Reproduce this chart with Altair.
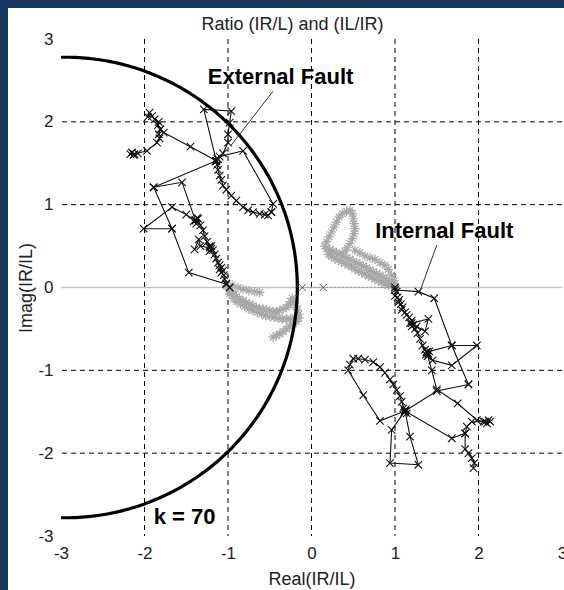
import altair as alt
import numpy as np
import pandas as pd

# ---------------- data ----------------
tick_values = [-3, -2, -1, 0, 1, 2, 3]
grid_x = [-2, -1, 0, 1, 2]
grid_y = [-2, -1, 1, 2]
zero_line = [0]
chart_title = "Ratio (IR/L) and (IL/IR)"

# k = 70 restraint circle (centre on the real axis, radius)
circle_center = (-2.95, 0.0)
circle_radius = 2.78

# external fault trajectory (black, x markers)
ext_segments = [
    [(-1.94, 2.11), (-1.96, 2.06), (-1.91, 2.07), (-1.88, 2.03), (-1.83, 2.00), (-1.84, 1.96),
     (-1.81, 1.91), (-1.83, 1.85), (-1.82, 1.80), (-1.85, 1.75), (-1.97, 1.65), (-2.08, 1.62),
     (-2.13, 1.60), (-2.17, 1.61), (-2.15, 1.63), (-2.12, 1.61)],
    [(-1.81, 1.91), (-1.77, 1.87), (-1.45, 1.70), (-1.14, 1.53)],
    [(-1.14, 1.53), (-1.29, 2.15), (-0.96, 2.13), (-0.98, 1.99), (-1.00, 1.85), (-1.00, 1.75),
     (-1.06, 1.62), (-1.12, 1.55), (-1.15, 1.52), (-1.13, 1.56), (-1.10, 1.58), (-0.82, 1.65),
     (-0.46, 1.01), (-0.48, 0.91)],
    [(-0.48, 0.91), (-0.52, 0.87), (-0.56, 0.88), (-0.62, 0.89), (-0.70, 0.91), (-0.76, 0.93),
     (-0.82, 0.97), (-0.90, 1.05), (-0.96, 1.11), (-1.02, 1.18), (-1.06, 1.23), (-1.08, 1.30),
     (-1.10, 1.35), (-1.12, 1.42), (-1.13, 1.48), (-1.14, 1.53)],
    [(-1.14, 1.53), (-1.89, 1.21), (-1.67, 0.71), (-1.47, 0.18), (-1.02, 0.04), (-0.98, 0.00)],
    [(-1.89, 1.21), (-1.55, 1.27), (-1.39, 0.81)],
    [(-1.67, 0.71), (-2.01, 0.71), (-1.67, 0.97), (-1.50, 0.88), (-1.39, 0.81)],
    [(-1.39, 0.81), (-1.37, 0.84), (-1.41, 0.80), (-1.38, 0.77), (-1.36, 0.83), (-1.33, 0.75),
     (-1.30, 0.69), (-1.28, 0.62), (-1.25, 0.55), (-1.22, 0.50), (-1.20, 0.47), (-1.22, 0.44),
     (-1.18, 0.45), (-1.20, 0.50), (-1.16, 0.40), (-1.14, 0.35), (-1.12, 0.30), (-1.10, 0.27),
     (-1.08, 0.24), (-1.10, 0.22), (-1.06, 0.20), (-1.08, 0.18), (-1.05, 0.15), (-1.04, 0.10),
     (-1.02, 0.05)],
    [(-1.22, 0.48), (-1.33, 0.50), (-1.35, 0.58), (-1.40, 0.46)],
]

# internal fault trajectory (black, x markers)
int_segments = [
    [(1.00, 0.00), (1.02, -0.05), (1.00, -0.10), (1.03, -0.12), (1.05, -0.15), (1.04, -0.18),
     (1.07, -0.20), (1.09, -0.24), (1.08, -0.27), (1.12, -0.30), (1.14, -0.33), (1.17, -0.36),
     (1.20, -0.40), (1.18, -0.43), (1.22, -0.45), (1.20, -0.47), (1.24, -0.50), (1.27, -0.55),
     (1.30, -0.62), (1.33, -0.70), (1.36, -0.75), (1.38, -0.78), (1.40, -0.80), (1.37, -0.81),
     (1.41, -0.77), (1.39, -0.83)],
    [(1.20, -0.43), (1.40, -0.38), (1.36, -0.53), (1.26, -0.47)],
    [(1.00, -0.03), (1.28, -0.05), (1.47, -0.13), (1.68, -0.70), (1.88, -1.17)],
    [(1.38, -0.78), (1.68, -0.70), (1.98, -0.70), (1.68, -0.94), (1.45, -0.88), (1.38, -0.78)],
    [(1.38, -0.78), (1.44, -1.00), (1.50, -1.23), (1.75, -1.40), (1.98, -1.60), (2.06, -1.62),
     (2.12, -1.60), (2.10, -1.64), (2.14, -1.62)],
    [(1.12, -1.49), (1.50, -1.25), (1.88, -1.17)],
    [(1.12, -1.49), (1.68, -1.82), (1.84, -1.76), (1.86, -1.68), (1.92, -1.62), (2.08, -1.62)],
    [(1.84, -1.76), (1.84, -1.95), (1.88, -2.00), (1.92, -2.06), (1.95, -2.12), (1.94, -2.18)],
    [(1.12, -1.49), (1.08, -1.38), (1.06, -1.31), (1.02, -1.24), (0.98, -1.17), (0.94, -1.11),
     (0.88, -1.03), (0.82, -0.96), (0.74, -0.90), (0.64, -0.87), (0.56, -0.86), (0.50, -0.86),
     (0.46, -0.93), (0.44, -1.00), (0.62, -1.30), (0.82, -1.61), (1.12, -1.49)],
    [(1.12, -1.49), (1.10, -1.46), (1.14, -1.52), (1.13, -1.47), (1.11, -1.51)],
    [(1.12, -1.49), (0.96, -1.72), (0.94, -2.12), (1.28, -2.14), (1.18, -1.80), (1.12, -1.49)],
]

# pre-fault / healthy-phase ratios (grey, asterisk markers)
grey_segments = [
    [(1.00, 0.02), (0.97, 0.05), (0.93, 0.07), (0.90, 0.10), (0.86, 0.12), (0.82, 0.15),
     (0.78, 0.17), (0.74, 0.19), (0.70, 0.21), (0.66, 0.24), (0.62, 0.26), (0.58, 0.28),
     (0.54, 0.30), (0.50, 0.32), (0.46, 0.34), (0.42, 0.36), (0.38, 0.38), (0.34, 0.40),
     (0.30, 0.42), (0.26, 0.44), (0.22, 0.46), (0.18, 0.47), (0.16, 0.50), (0.18, 0.55),
     (0.21, 0.61), (0.24, 0.67), (0.27, 0.73), (0.30, 0.79), (0.33, 0.85), (0.37, 0.89),
     (0.42, 0.92), (0.46, 0.93), (0.49, 0.89), (0.50, 0.83), (0.51, 0.77), (0.52, 0.71),
     (0.51, 0.65), (0.49, 0.59), (0.46, 0.53), (0.43, 0.48), (0.40, 0.44)],
    [(0.20, 0.40), (0.24, 0.37), (0.28, 0.35), (0.32, 0.33), (0.36, 0.31), (0.40, 0.29),
     (0.44, 0.27), (0.48, 0.25), (0.52, 0.22), (0.56, 0.20), (0.60, 0.18), (0.64, 0.16),
     (0.68, 0.14), (0.72, 0.12), (0.76, 0.10), (0.80, 0.08), (0.84, 0.06), (0.88, 0.04),
     (0.92, 0.03), (0.96, 0.02), (1.00, 0.00)],
    [(0.52, 0.45), (0.58, 0.42), (0.64, 0.38), (0.70, 0.36), (0.76, 0.34), (0.82, 0.30),
     (0.88, 0.27), (0.92, 0.22), (0.96, 0.15), (0.99, 0.08)],
    [(-1.02, 0.02), (-0.99, -0.02), (-0.96, -0.05), (-0.93, -0.08), (-0.90, -0.11), (-0.86, -0.14),
     (-0.82, -0.16), (-0.78, -0.18), (-0.74, -0.20), (-0.70, -0.22), (-0.66, -0.24), (-0.62, -0.25),
     (-0.58, -0.26), (-0.54, -0.27), (-0.50, -0.28), (-0.46, -0.29), (-0.42, -0.29), (-0.38, -0.28),
     (-0.34, -0.26), (-0.30, -0.24), (-0.27, -0.21), (-0.25, -0.17), (-0.23, -0.13), (-0.21, -0.17),
     (-0.19, -0.22), (-0.17, -0.27), (-0.15, -0.32), (-0.15, -0.37), (-0.18, -0.41), (-0.22, -0.44),
     (-0.26, -0.47), (-0.30, -0.50), (-0.34, -0.53), (-0.38, -0.56), (-0.42, -0.58), (-0.46, -0.60)],
    [(-0.98, -0.08), (-0.94, -0.13), (-0.90, -0.17), (-0.85, -0.20), (-0.80, -0.23), (-0.75, -0.26),
     (-0.70, -0.28), (-0.65, -0.30), (-0.60, -0.32), (-0.55, -0.34), (-0.50, -0.35), (-0.45, -0.36),
     (-0.40, -0.37), (-0.35, -0.38), (-0.30, -0.38), (-0.25, -0.38), (-0.20, -0.36)],
    [(-0.95, 0.03), (-0.88, 0.00), (-0.82, -0.02), (-0.75, -0.04), (-0.68, -0.05), (-0.62, -0.06)],
]

# sparse samples on the real axis between the two groups
axis_samples = [(-0.11, 0.0), (0.14, 0.0)]
axis_trace = [(-0.11, 0.0), (0.14, 0.0), (1.00, 0.0)]

# annotations
labels = ["External Fault", "Internal Fault", "k = 70"]
label_x = [-0.37, 1.59, -1.52]
label_y = [2.54, 0.68, -2.77]
leader_segments = [
    [(-0.46, 2.37), (-0.96, 1.72)],
    [(1.50, 0.51), (1.29, -0.07)],
]


def to_frame(segments, tag):
    rows = []
    for sid, pts in enumerate(segments):
        for i, (x, y) in enumerate(pts):
            rows.append({"x": x, "y": y, "seg": f"{tag}{sid}", "ord": i})
    return pd.DataFrame(rows)


ext_df = to_frame(ext_segments, "e")
int_df = to_frame(int_segments, "i")
black_df = pd.concat([ext_df, int_df], ignore_index=True)
grey_df = to_frame(grey_segments, "g")
axis_pts_df = to_frame([axis_samples], "a")
axis_line_df = to_frame([axis_trace], "a")
leader_df = to_frame(leader_segments, "l")

theta = np.linspace(-np.pi * 0.52, np.pi * 0.52, 241)
circle_df = pd.DataFrame({
    "x": circle_center[0] + circle_radius * np.cos(theta),
    "y": circle_center[1] + circle_radius * np.sin(theta),
    "ord": np.arange(theta.size),
})
label_df = pd.DataFrame({"x": label_x, "y": label_y, "text": labels})

# ---------------- styling ----------------
W, H = 501, 497
FONT = "Liberation Sans"
NAVY = "#17375e"
INK = "#222222"
X_MARK = "M-1,-1L1,1M-1,1L1,-1"
STAR_MARK = "M-1,0L1,0M0,-1L0,1M-0.7,-0.7L0.7,0.7M-0.7,0.7L0.7,-0.7"

xscale = alt.Scale(domain=[-3, 3], nice=False, zero=False)
yscale = alt.Scale(domain=[-3, 3], nice=False, zero=False)

xaxis = alt.Axis(
    values=tick_values, grid=False, ticks=False, domain=False,
    labelFont=FONT, labelFontSize=17, labelColor=INK, labelPadding=9,
    labelExpr="datum.value + ''", labelFlush=False,
    title="Real(IR/IL)", titleFont=FONT, titleFontSize=18, titleFontWeight="normal",
    titleColor=INK, titleX=W / 2, titleY=43, titleBaseline="middle", titleAlign="center",
    zindex=1,
)
yaxis = alt.Axis(
    values=tick_values, grid=False, ticks=False, domain=False,
    labelFont=FONT, labelFontSize=17, labelColor=INK, labelPadding=8,
    labelExpr="datum.value + ''", labelFlush=False,
    title="Imag(IR/IL)", titleFont=FONT, titleFontSize=18, titleFontWeight="normal",
    titleColor=INK, titleX=-35, titleY=H / 2, titleAngle=270,
    titleBaseline="middle", titleAlign="center",
    zindex=1,
)

X = alt.X("x:Q", scale=xscale, axis=xaxis)
Y = alt.Y("y:Q", scale=yscale, axis=yaxis)

one_row = pd.DataFrame({"k": [0]})

# white panel behind the axes
panel = alt.Chart(one_row).mark_rect(color="white").encode(
    x=alt.value(-53), x2=alt.value(W + 3), y=alt.value(-31), y2=alt.value(H + 54)
)

# chart heading, set above the plot frame
heading = alt.Chart(pd.DataFrame({"text": [chart_title]})).mark_text(
    font=FONT, fontSize=18, color=INK, align="center", baseline="middle"
).encode(x=alt.value(W / 2 - 19), y=alt.value(-14), text="text:N")

gx = alt.Chart(pd.DataFrame({"x": grid_x})).mark_rule(
    color="black", strokeWidth=1, strokeDash=[5, 4]
).encode(x=X)
gy = alt.Chart(pd.DataFrame({"y": grid_y})).mark_rule(
    color="black", strokeWidth=1, strokeDash=[5, 4]
).encode(y=Y)
g0 = alt.Chart(pd.DataFrame({"y": zero_line})).mark_rule(
    color="#c4c4c4", strokeWidth=1.6
).encode(y=Y)

grey_lines = alt.Chart(grey_df).mark_line(color="#b0b0b0", strokeWidth=1).encode(
    x=X, y=Y, detail="seg:N", order="ord:Q"
)
grey_pts = alt.Chart(grey_df).mark_point(
    shape=STAR_MARK, filled=False, color="#a8a8a8", size=90, strokeWidth=1.2, opacity=1
).encode(x=X, y=Y)

axis_line = alt.Chart(axis_line_df).mark_line(
    color="#9a9a9a", strokeWidth=1, strokeDash=[2, 2]
).encode(x=X, y=Y, detail="seg:N", order="ord:Q")
axis_pts = alt.Chart(axis_pts_df).mark_point(
    shape=X_MARK, filled=False, color="#555555", size=49, strokeWidth=1, opacity=1
).encode(x=X, y=Y)

black_lines = alt.Chart(black_df).mark_line(color="#111111", strokeWidth=1.1).encode(
    x=X, y=Y, detail="seg:N", order="ord:Q"
)
black_pts = alt.Chart(black_df).mark_point(
    shape=X_MARK, filled=False, color="#111111", size=56, strokeWidth=1.1, opacity=1
).encode(x=X, y=Y)

circle = alt.Chart(circle_df).mark_line(color="black", strokeWidth=3.2, clip=True).encode(
    x=X, y=Y, order="ord:Q"
)

leaders = alt.Chart(leader_df).mark_line(color="#333333", strokeWidth=1).encode(
    x=X, y=Y, detail="seg:N", order="ord:Q"
)

texts = alt.Chart(label_df).mark_text(
    font=FONT, fontSize=22, fontWeight="bold", color="black", align="center", baseline="middle"
).encode(x=X, y=Y, text="text:N")

chart = alt.layer(
    panel, heading, gx, gy, g0, grey_lines, grey_pts, axis_line, axis_pts,
    black_lines, black_pts, circle, leaders, texts,
).properties(
    width=W,
    height=H,
    autosize=alt.AutoSizeParams(type="none"),
    padding={"left": 61, "top": 39, "right": 2, "bottom": 54},
    background=NAVY,
).configure_view(
    stroke="black", strokeWidth=1.3
)

chart.save("out.html", embed_options={"renderer": "svg", "actions": False})
